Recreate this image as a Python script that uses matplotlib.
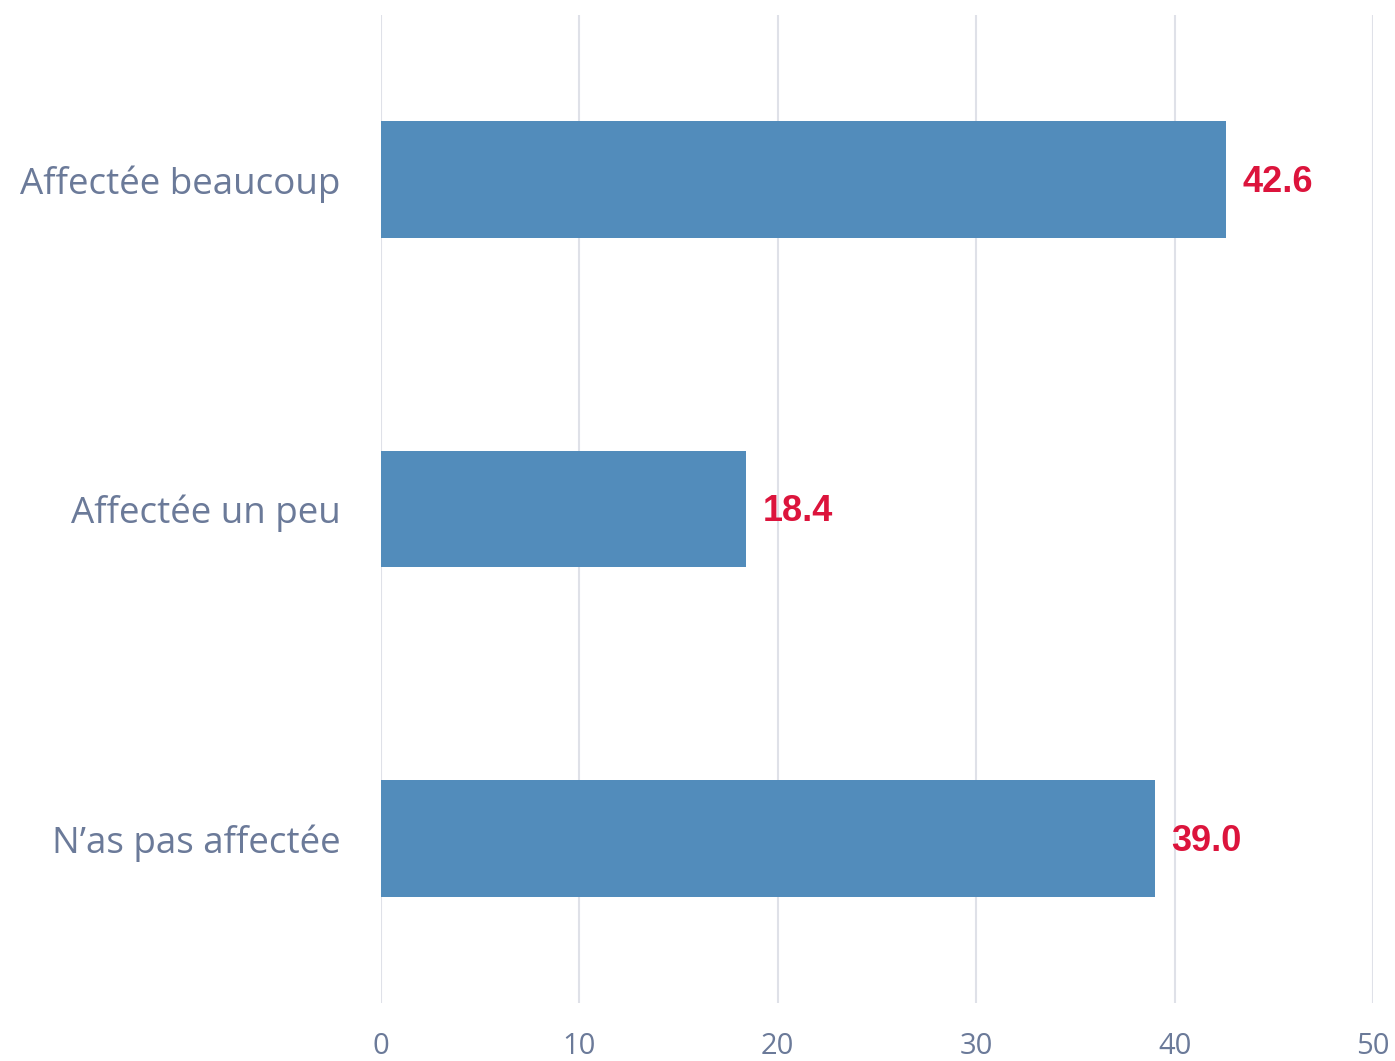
import matplotlib.pyplot as plt

# Data
categories = ["Affectée beaucoup", "Affectée un peu", "N\u2019as pas affectée"]
values = [42.6, 18.4, 39.0]
xticks = [0, 10, 20, 30, 40, 50]

bar_color = "#528cbb"
text_color = "#6b7a99"
value_color = "#dc143c"
grid_color = "#dfe1e8"

fig = plt.figure(figsize=(13.95, 10.61), dpi=100)
ax = fig.add_axes([381 / 1395, (1061 - 1003) / 1061, (1373 - 381) / 1395, (1003 - 15) / 1061])

ypos = list(range(len(categories)))
ax.barh(ypos, values, height=0.355, color=bar_color, zorder=2)

for y, v in zip(ypos, values):
    ax.annotate(f"{v:.1f}", xy=(v, y), xytext=(12, -2), textcoords="offset points",
                va="center", ha="left", fontsize=26, fontweight="bold",
                color=value_color, family="Liberation Sans")

ax.set_xlim(0, 50)
ax.set_ylim(2.5, -0.5)
ax.set_xticks(xticks)
ax.set_yticks(ypos)
ax.set_yticklabels(categories, family="Open Sans", fontsize=26.5, color=text_color,
                   va="center_baseline")
ax.set_xticklabels([str(t) for t in xticks], family="Open Sans", fontsize=21, color=text_color)

ax.grid(axis="x", color=grid_color, linewidth=1.5, zorder=0)
for s in ax.spines.values():
    s.set_visible(False)
ax.tick_params(axis="both", length=0)
ax.tick_params(axis="y", pad=29)
ax.tick_params(axis="x", pad=21)

fig.savefig("out.png", dpi=100)
